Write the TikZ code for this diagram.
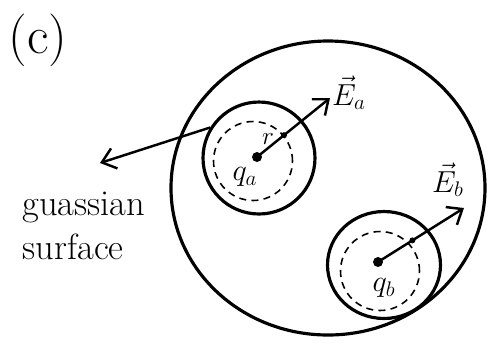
\documentclass[tikz,border=0pt]{standalone}
\usetikzlibrary{arrows.meta, positioning, calc, shapes.geometric}

\begin{document}
\begin{tikzpicture}[
  x=0.02cm, y=-0.02cm,
  surf/.style={draw, circle, line width=1.8pt, minimum size=22.4mm, inner sep=0pt},
  inner/.style={draw, circle, dashed, dash pattern=on 4pt off 3pt, line width=0.9pt,
                minimum size=15.8mm, inner sep=0pt},
  charge/.style={fill, circle, inner sep=0pt, minimum size=2mm},
  pin/.style={fill, circle, inner sep=0pt, minimum size=1.2mm},
  field/.style={-{Straight Barb[length=2.6mm, width=4.2mm, line width=1.4pt]}, line width=1.4pt},
  lab/.style={font=\LARGE, inner sep=1pt},
]
\useasboundingbox (0,0) rectangle (491,343);
% panel tag
\node[font=\fontsize{30}{34}\selectfont] (tag) at (38,40) {(c)};
% outer closed surface
\draw[line width=1.8pt] (328,188) ellipse [x radius=157, y radius=147];

% charge a with its small sphere
\node[surf] (surfA) at (259,158) {};
\node[inner] (dashA) at (253,161) {};
\node[charge] (qA) at (257,157) {};
\coordinate (tipA) at (330,98);
\draw[field] (qA.center) -- (tipA);
\node[pin] (rA) at ($(qA)!0.37!(tipA)$) {};
\node[font=\Large] (rlab) at (268,139) {$r$};
\node[lab] (qAlab) at (245,177) {$q_a$};
\node[lab, anchor=south west] (EA) at (330,112) {$\vec{E}_a$};

% charge b with its small sphere
\node[surf, ellipse, minimum width=22.6mm, minimum height=21.4mm] (surfB) at (384,265) {};
\node[inner] (dashB) at (380,271) {};
\node[charge] (qB) at (378,262) {};
\coordinate (tipB) at (464,208);
\draw[field] (qB.center) -- (tipB);
\node[pin] (rB) at ($(qB)!0.4!(tipB)$) {};
\node[lab] (qBlab) at (384,288) {$q_b$};
\node[lab] (EB) at (448,180) {$\vec{E}_b$};

% label for the gaussian surface
\node[font=\huge, align=left] (glab) at (84,226) {guassian\\surface};
\coordinate (tipS) at (100,163);
\draw[field] (surfA.148) -- (tipS);
\end{tikzpicture}
\end{document}
